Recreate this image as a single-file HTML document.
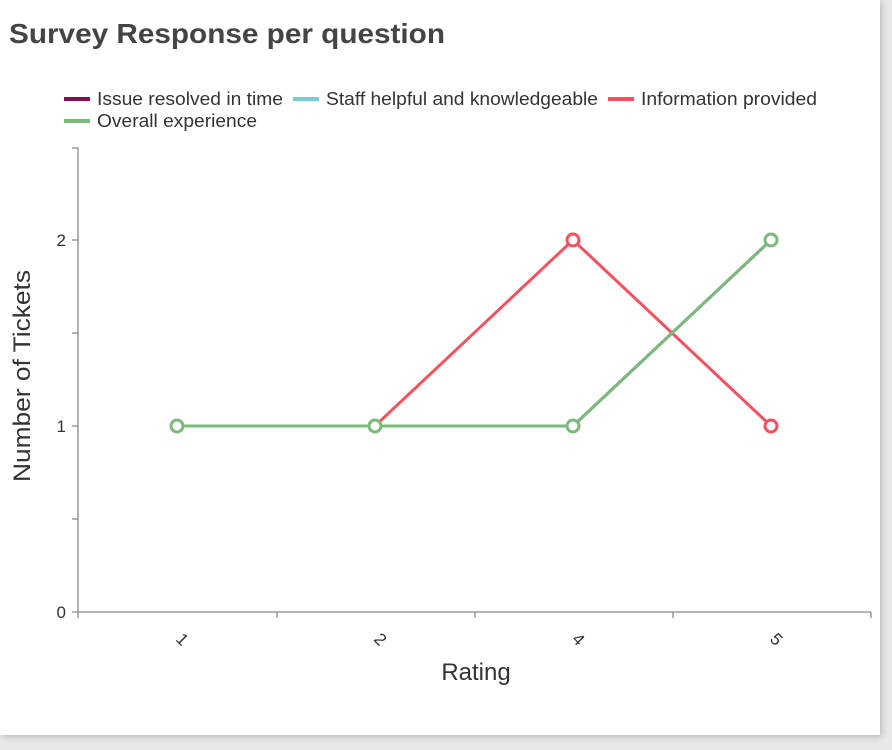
<!DOCTYPE html>
<html><head><style>
body{margin:0;background:#e8e8e8;width:892px;height:750px;overflow:hidden;font-family:"Liberation Sans",sans-serif}
.card{position:absolute;left:0;top:0;width:880px;height:735px;background:#fff;box-shadow:2px 2px 6px rgba(0,0,0,0.2)}
</style></head><body>
<div class="card">
<svg width="880" height="735" style="position:absolute;left:0;top:0" font-family="Liberation Sans, sans-serif">
<text x="9" y="43" font-size="28" font-weight="bold" fill="#444" textLength="436" lengthAdjust="spacingAndGlyphs">Survey Response per question</text>
<g font-size="18" fill="#333">
<rect x="64" y="97" width="26" height="4" fill="#8b0a50"/><text x="97" y="105" textLength="186" lengthAdjust="spacingAndGlyphs">Issue resolved in time</text>
<rect x="293" y="97" width="26" height="4" fill="#6fcfcf"/><text x="326" y="105" textLength="272" lengthAdjust="spacingAndGlyphs">Staff helpful and knowledgeable</text>
<rect x="608" y="97" width="26" height="4" fill="#f5515f"/><text x="641" y="105" textLength="176" lengthAdjust="spacingAndGlyphs">Information provided</text>
<rect x="64" y="119" width="26" height="4" fill="#7cb97c"/><text x="97" y="127" textLength="160" lengthAdjust="spacingAndGlyphs">Overall experience</text>
</g>
<g stroke="#888" stroke-width="1.3" fill="none">
<path d="M72 148H78V612M72 240H78M72 333H78M72 426H78M72 519H78M72 612H78"/>
<path d="M78 612H871M78 612V618M277 612V618M475 612V618M673 612V618M871 612V618"/>
</g>
<g font-size="17" fill="#333" text-anchor="end">
<text x="66" y="246">2</text><text x="66" y="432">1</text><text x="66" y="618">0</text>
</g>
<g font-size="17" fill="#333">
<text transform="translate(175,640) rotate(45)">1</text>
<text transform="translate(373,640) rotate(45)">2</text>
<text transform="translate(571,640) rotate(45)">4</text>
<text transform="translate(769,640) rotate(45)">5</text>
</g>
<text x="476" y="680" font-size="24" fill="#333" text-anchor="middle">Rating</text>
<text transform="translate(30,376) rotate(-90)" font-size="24" fill="#333" text-anchor="middle" textLength="212" lengthAdjust="spacingAndGlyphs">Number of Tickets</text>
<g fill="none" stroke-width="3">
<polyline points="177,426 375,426 573,240 771,426" stroke="#f5515f"/>
<polyline points="177,426 375,426 573,426 771,240" stroke="#8b0a50"/>
<polyline points="177,426 375,426 573,426 771,240" stroke="#6fcfcf"/>
<polyline points="177,426 375,426 573,426 771,240" stroke="#7cb97c"/>
</g>
<g fill="#fff" stroke-width="3">
<circle cx="573" cy="240" r="6" stroke="#f5515f"/><circle cx="771" cy="426" r="6" stroke="#f5515f"/>
<circle cx="177" cy="426" r="6" stroke="#7cb97c"/><circle cx="375" cy="426" r="6" stroke="#7cb97c"/>
<circle cx="573" cy="426" r="6" stroke="#7cb97c"/><circle cx="771" cy="240" r="6" stroke="#7cb97c"/>
</g>
</svg>
</div>
</body></html>
